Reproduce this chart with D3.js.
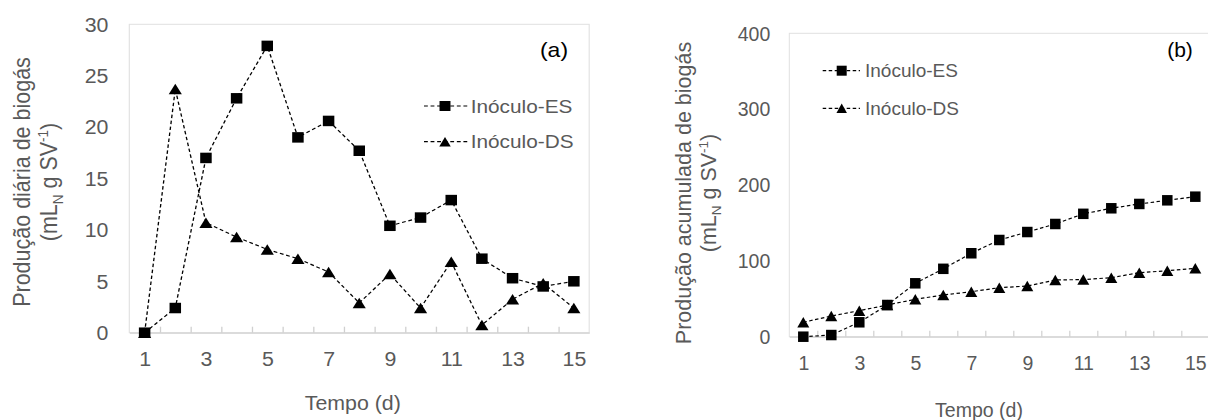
<!DOCTYPE html>
<html>
<head>
<meta charset="utf-8">
<script src="https://cdn.jsdelivr.net/npm/d3@7"></script>
<style>
  body { margin: 0; background: #fff; }
  text { font-family: "Liberation Sans", Arial, sans-serif; }
</style>
</head>
<body>
<div id="chart"></div>
<script>
// data
const days = [1, 2, 3, 4, 5, 6, 7, 8, 9, 10, 11, 12, 13, 14, 15];
const dayLabels = [1, 3, 5, 7, 9, 11, 13, 15];

// (a) daily biogas production
const dailyES = [0, 2.4, 17.0, 22.8, 27.9, 19.0, 20.6, 17.7, 10.4, 11.2, 12.9, 7.2, 5.3, 4.5, 5.0];
const dailyDS = [0, 23.7, 10.7, 9.3, 8.1, 7.2, 5.9, 2.9, 5.7, 2.4, 6.9, 0.75, 3.25, 4.8, 2.4];
const dailyTicks = [0, 5, 10, 15, 20, 25, 30];

// (b) cumulative biogas production
const cumES = [0, 2.2, 19, 41.8, 70.4, 89.5, 110, 127.5, 138, 148.6, 162, 169.3, 175, 179.8, 184.6];
const cumDS = [19, 27.3, 34.3, 41.8, 49.3, 55, 59.3, 64.6, 66.8, 74.8, 75.3, 77.8, 84.4, 87, 90.2];
const cumTicks = [0, 100, 200, 300, 400];

const seriesNames = ["Inóculo-ES", "Inóculo-DS"];

const svg = d3.select("#chart")
  .append("svg")
  .attr("width", 1208)
  .attr("height", 420);

const grey = "#595959";
const font = "'Liberation Sans', Arial, sans-serif";

function square(s) {
  return `M${-s / 2},${-s / 2}h${s}v${s}h${-s}Z`;
}
function triangle(w, h) {
  return `M0,${-h / 2}L${w / 2},${h / 2}L${-w / 2},${h / 2}Z`;
}

function drawPanel(opt) {
  // panel (a) is stretched sideways in the original, so scale the group
  const g = svg.append("g").attr("transform", `scale(${opt.sx},1)`);

  const x = d3.scaleLinear().domain([0.5, 15.5]).range([opt.left, opt.left + 420]);
  const y = d3.scaleLinear().domain([0, opt.ymax]).range([opt.bottom, opt.top]);

  // plot area border
  g.append("rect")
    .attr("x", opt.left)
    .attr("y", opt.top)
    .attr("width", 420)
    .attr("height", opt.bottom - opt.top)
    .attr("fill", "none")
    .attr("stroke", "#e0e0e0")
    .attr("stroke-width", 1);

  // category boundary ticks (pointing up)
  const tickAxis = g.append("g")
    .attr("transform", `translate(0,${opt.bottom})`)
    .call(d3.axisBottom(x)
      .tickValues(days.slice(0, 14).map(d => d + 0.5))
      .tickSize(-6)
      .tickSizeOuter(0)
      .tickFormat(""));
  tickAxis.selectAll("path, line").attr("stroke", "#d0d0d0").attr("stroke-width", 1.2);

  // x labels
  const xLab = g.append("g")
    .attr("transform", `translate(0,${opt.bottom})`)
    .call(d3.axisBottom(x).tickValues(dayLabels).tickSize(0));
  xLab.select(".domain").remove();
  xLab.selectAll("text")
    .attr("y", 26.6)
    .attr("dy", "0.35em")
    .attr("fill", grey)
    .style("font-size", "19.5px")
    .style("font-family", font);

  // y labels
  const yLab = g.append("g")
    .attr("transform", `translate(${opt.left},0)`)
    .call(d3.axisLeft(y).tickValues(opt.yticks).tickSize(0).tickPadding(19));
  yLab.select(".domain").remove();
  yLab.selectAll("text")
    .attr("dy", "0.35em")
    .attr("fill", grey)
    .style("font-size", "19.5px")
    .style("font-family", font);

  // axis titles
  g.append("text")
    .attr("x", opt.xTitleX)
    .attr("y", opt.xTitleY)
    .attr("dy", "0.35em")
    .attr("text-anchor", "middle")
    .attr("fill", grey)
    .style("font-size", "19.5px")
    .text("Tempo (d)");

  g.append("text")
    .attr("transform", `translate(${opt.yTitle1X},${opt.yTitleY}) rotate(-90)`)
    .attr("dy", "0.35em")
    .attr("text-anchor", "middle")
    .attr("fill", grey)
    .style("font-size", "21.5px")
    .text(opt.yTitle);

  const t2 = g.append("text")
    .attr("transform", `translate(${opt.yTitle2X},${opt.yTitleY}) rotate(-90)`)
    .attr("dy", "0.35em")
    .attr("text-anchor", "middle")
    .attr("fill", grey)
    .style("font-size", "21.5px");
  t2.append("tspan").text("(mL");
  t2.append("tspan").attr("dy", 5).style("font-size", "13.5px").text("N");
  t2.append("tspan").attr("dy", -5).text(" g SV");
  t2.append("tspan").attr("dy", -8).style("font-size", "13.5px").text("-1");
  t2.append("tspan").attr("dy", 8).text(")");

  // panel letter
  g.append("text")
    .attr("x", opt.letterX)
    .attr("y", opt.letterY)
    .attr("dy", "0.35em")
    .attr("text-anchor", "middle")
    .attr("fill", "#000")
    .style("font-size", "21px")
    .text(opt.letter);

  const line = d3.line()
    .x((d, i) => x(days[i]))
    .y(d => y(d));

  // DS first, ES on top
  const series = [
    { vals: opt.ds, shape: triangle(12, 10.5) },
    { vals: opt.es, shape: square(10.5) }
  ];
  series.forEach(s => {
    g.append("path")
      .datum(s.vals)
      .attr("d", line)
      .attr("fill", "none")
      .attr("stroke", "#000")
      .attr("stroke-width", 1.2)
      .attr("stroke-dasharray", "3.5,2.5");
    g.selectAll(null)
      .data(s.vals)
      .enter()
      .append("path")
      .attr("d", s.shape)
      .attr("transform", (d, i) => `translate(${x(days[i])},${y(d)})`)
      .attr("fill", "#000");
  });

  // legend
  const legShapes = [square(10), triangle(10.5, 9.5)];
  seriesNames.forEach((name, i) => {
    const ly = opt.legY[i];
    g.append("line")
      .attr("x1", opt.legX1).attr("x2", opt.legX2)
      .attr("y1", ly).attr("y2", ly)
      .attr("stroke", "#000")
      .attr("stroke-width", 1.2)
      .attr("stroke-dasharray", "3.5,2.5");
    g.append("path")
      .attr("d", legShapes[i])
      .attr("transform", `translate(${opt.legM},${ly})`)
      .attr("fill", "#000");
    g.append("text")
      .attr("x", opt.legT)
      .attr("y", ly)
      .attr("dy", "0.35em")
      .attr("fill", grey)
      .style("font-size", "19px")
      .text(name);
  });
}

const sx = 1.095;

// panel (a)
drawPanel({
  sx: sx,
  left: 129.3 / sx, top: 24.3, bottom: 332.7,
  ymax: 30, yticks: dailyTicks,
  es: dailyES, ds: dailyDS,
  xTitleX: 352.8 / sx, xTitleY: 403,
  yTitle: "Produção diária de biogás",
  yTitle1X: 22 / sx, yTitle2X: 49 / sx, yTitleY: 182,
  letter: "(a)", letterX: 554 / sx, letterY: 50,
  legX1: 424 / sx, legX2: 468 / sx, legM: 445 / sx, legT: 470.7 / sx,
  legY: [106, 141.7]
});

// panel (b)
drawPanel({
  sx: 1,
  left: 789.3, top: 33.3, bottom: 336.7,
  ymax: 400, yticks: cumTicks,
  es: cumES, ds: cumDS,
  xTitleX: 979, xTitleY: 410,
  yTitle: "Produção acumulada de biogás",
  yTitle1X: 683.3, yTitle2X: 708.3, yTitleY: 193,
  letter: "(b)", letterX: 1180, letterY: 49.3,
  legX1: 822.7, legX2: 860, legM: 841.7, legT: 865,
  legY: [70.7, 108.3]
});
</script>
</body>
</html>
